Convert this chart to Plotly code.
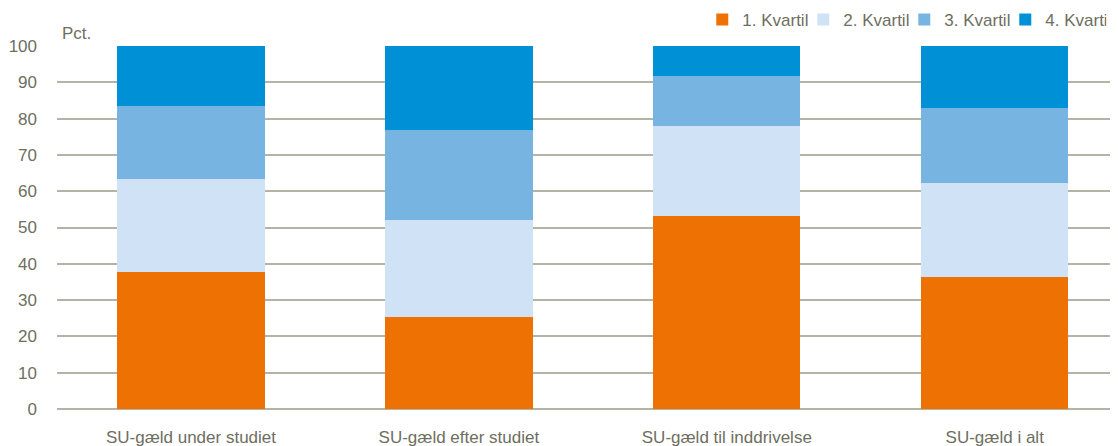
import plotly.graph_objects as go

categories = ["SU-gæld under studiet", "SU-gæld efter studiet", "SU-gæld til inddrivelse", "SU-gæld i alt"]
series_names = ["1. Kvartil", "2. Kvartil", "3. Kvartil", "4. Kvartil"]
q1 = [37.7, 25.4, 53.2, 36.4]
q2 = [25.7, 26.7, 24.7, 25.8]
q3 = [20.2, 24.8, 13.7, 20.6]
q4 = [16.4, 23.1, 8.4, 17.2]
y_ticks = [0, 10, 20, 30, 40, 50, 60, 70, 80, 90, 100]

colors = ["#EE7203", "#D0E2F5", "#77B4E2", "#0090D6"]
font_fam = "Liberation Sans Narrow, Arial Narrow, Liberation Sans, Arial, sans-serif"
txt = "#6E6E60"

fig = go.Figure()
for name, vals, c in zip(series_names, [q1, q2, q3, q4], colors):
    fig.add_trace(go.Bar(x=categories, y=vals, name=name, marker=dict(color=c, line=dict(width=0)), width=0.55))

fig.update_layout(
    barmode="stack",
    width=1118, height=446,
    margin=dict(l=49, r=0, t=38, b=45, autoexpand=False),
    paper_bgcolor="white", plot_bgcolor="white",
    font=dict(family=font_fam, size=17, color=txt),
    showlegend=True,
    legend=dict(orientation="h", xref="container", yref="paper", x=0.621, xanchor="left",
                y=1.0716, yanchor="middle",
                font=dict(size=17, color=txt), traceorder="normal",
                itemwidth=30, entrywidth=56, entrywidthmode="pixels",
                bgcolor="rgba(0,0,0,0)", borderwidth=0),
    xaxis=dict(range=[-0.5, 3.49], showgrid=False, ticks="", showline=False, zeroline=False,
               tickfont=dict(size=17, color=txt), ticklabelstandoff=16),
    yaxis=dict(range=[0, 100], tickvals=y_ticks, showgrid=True, gridcolor="#B4B4A6", gridwidth=1.5,
               zeroline=True, zerolinecolor="#B4B4A6", zerolinewidth=1.5, ticks="", showline=False,
               tickfont=dict(size=17, color=txt), ticklabelstandoff=19),
    annotations=[dict(text="Pct.", xref="paper", yref="paper", x=0.003, y=1.0, xanchor="left", yanchor="bottom",
                      yshift=1, showarrow=False, font=dict(size=17, color=txt))],
)
fig.write_html("out.html")
